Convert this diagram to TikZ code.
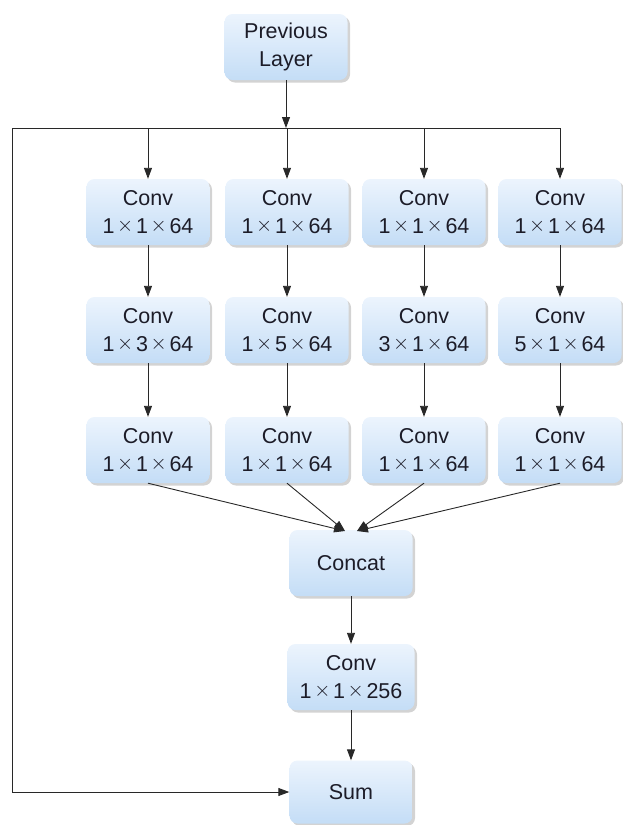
\documentclass[tikz,border=0pt]{standalone}
\usepackage{fontspec}
\setmainfont{Liberation Sans}
\usetikzlibrary{arrows.meta,shadows}
\definecolor{boxtop}{RGB}{236,244,253}
\definecolor{boxbot}{RGB}{196,221,246}
\definecolor{txt}{RGB}{28,28,40}
\definecolor{ln}{RGB}{40,40,40}
\newcommand{\tms}{\hbox to 1.0em{\hss\raisebox{0.1em}{$\times$}\hss}}
\tikzset{
  blk/.style={rounded corners=8pt, minimum width=123pt, minimum height=66pt,
    inner sep=0pt, top color=boxtop, bottom color=boxbot, text=txt,
    align=center, font=\fontsize{21.5}{28}\selectfont,
    drop shadow={shadow xshift=2.5pt, shadow yshift=-2.5pt, opacity=0.35, fill=gray}},
  arr/.style={draw=ln, line width=0.9pt, -{Triangle[length=11pt,width=8pt]}},
  ln/.style={draw=ln, line width=0.9pt}
}
\begin{document}
\begin{tikzpicture}[x=1pt,y=-1pt]
\useasboundingbox (0,0) rectangle (623,825);
\node[blk] (prev) at (286,47) {Previous\\Layer};
\foreach \c/\x in {1/148,2/287,3/424,4/560}{
  \node[blk] (a\c) at (\x,212) {Conv\\1\tms1\tms64};
  \node[blk] (c\c) at (\x,450) {Conv\\1\tms1\tms64};
}
\node[blk] (b1) at (148,330) {Conv\\1\tms3\tms64};
\node[blk] (b2) at (287,330) {Conv\\1\tms5\tms64};
\node[blk] (b3) at (424,330) {Conv\\3\tms1\tms64};
\node[blk] (b4) at (560,330) {Conv\\5\tms1\tms64};
\node[blk] (concat) at (351,563) {Concat};
\node[blk, minimum width=127pt] (conv) at (351,677) {Conv\\1\tms1\tms256};
\node[blk, minimum height=63pt] (sum) at (351,792) {Sum};
\coordinate (lt) at (12,128);
\coordinate (jn) at (286,128);
\coordinate (rt) at (560,128);
\coordinate (cl) at (345,531);
\coordinate (cr) at (357,531);
\draw[arr] (prev.south) -- (jn);
\draw[ln] (lt) -- (rt);
\foreach \c in {1,2,3,4}{
  \draw[arr] (a\c.north |- jn) -- (a\c.north);
  \draw[arr] (a\c.south) -- (b\c.north);
  \draw[arr] (b\c.south) -- (c\c.north);
}
\draw[arr] (c1.south) -- (cl);
\draw[arr] (c2.south) -- (cl);
\draw[arr] (c3.south) -- (cr);
\draw[arr] (c4.south) -- (cr);
\draw[arr] (concat.south) -- (conv.north);
\draw[arr] (conv.south) -- (sum.north);
\draw[arr] (lt) |- (sum.west);
\end{tikzpicture}
\end{document}
